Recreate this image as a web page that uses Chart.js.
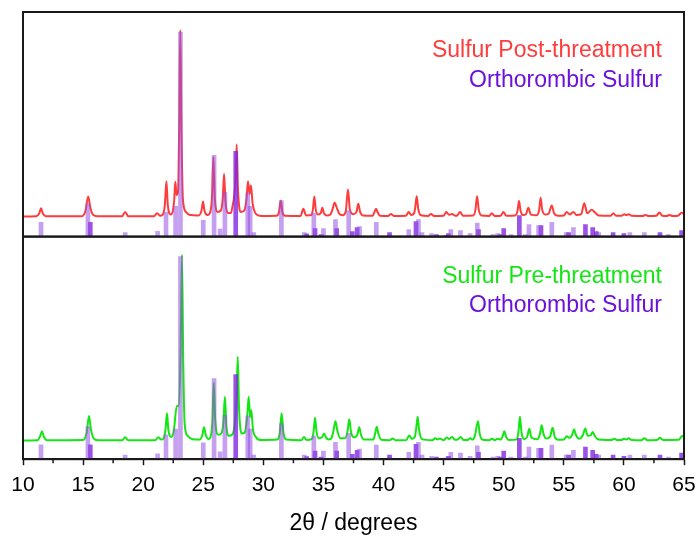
<!DOCTYPE html>
<html>
<head>
<meta charset="utf-8">
<script src="https://cdn.jsdelivr.net/npm/chart.js@4.4.1/dist/chart.umd.min.js"></script>
<style>
  html, body { margin: 0; padding: 0; background: #fff; }
</style>
</head>
<body>
<canvas id="xrdChart" width="699" height="537"></canvas>
<script>
// Eje X (2θ) y etiquetas
const xTickValues = [10, 15, 20, 25, 30, 35, 40, 45, 50, 55, 60, 65];

// Referencia: azufre ortorrómbico (barras claras)
const refAngles = [11.5, 15.4, 18.5, 21.2, 21.9, 22.7, 23.1, 25.0, 25.9, 26.4, 26.8, 28.7, 28.9, 29.2,
    31.5, 33.4, 34.2, 35.0, 36.0, 37.1, 38.0, 39.4, 40.5, 42.1, 42.9, 43.2, 44.0, 45.6, 46.4, 47.2,
    47.8, 49.1, 49.5, 50.6, 51.8, 52.1, 52.9, 54.0, 55.2, 55.8, 57.9, 60.5, 61.7, 63.7];
const refIntensity = [6.4, 14.6, 1.8, 2.4, 10.9, 13.5, 91, 7.3, 36.2, 3.3, 19.8, 19.5, 13.5, 1.8,
    16, 1.8, 10.4, 3.6, 7.6, 11.6, 4.5, 6.3, 0.9, 3.1, 7.6, 1.8, 1.3, 3.1, 2.7, 1.3,
    6, 0.9, 1.3, 0.9, 0.9, 5.4, 4.9, 6.3, 1.8, 4, 1.8, 1.8, 1.8, 0.9];

// Referencia: barras oscuras
const refDarkAngles = [15.6, 27.7, 33.6, 34.3, 34.8, 36.1, 37.4, 37.8, 40.5, 42.7, 44.4, 45.2, 45.4,
    47.9, 49.7, 50.0, 51.3, 53.1, 55.4, 56.8, 57.4, 57.7, 59.1, 60.0, 63.0, 64.8];
const refDarkIntensity = [6.4, 38, 1.2, 3.6, 0.9, 3.6, 2.2, 4, 1.8, 6.7, 0.9, 0.5, 1.3,
    3.1, 0.9, 3.6, 9.4, 4.9, 1.8, 5.4, 4, 2.2, 1.8, 1.3, 1.8, 2.7];

// Difractograma post-tratamiento [2θ, intensidad]
const postPattern = [
    [10, 9], [11.1, 9.1], [11.35, 10.3], [11.5, 12.6], [11.65, 10.3], [11.9, 9.1],
    [14.9, 9.1], [15.2, 11.5], [15.43, 17.9], [15.6, 13], [15.85, 9.6], [16.2, 9.1],
    [18.25, 9.1], [18.5, 11.0], [18.75, 9.1],
    [20.9, 9.1], [21.15, 10.4], [21.4, 9.3],
    [21.6, 9.6], [21.8, 14], [21.93, 24.7], [22.05, 14], [22.3, 9.8],
    [22.45, 11], [22.58, 16], [22.67, 24.4], [22.78, 18.5], [22.9, 20], [23.0, 50], [23.09, 92],
    [23.18, 50], [23.3, 17], [23.55, 11], [23.9, 9.6],
    [24.6, 9.4], [24.85, 11.5], [24.98, 15.6], [25.1, 11.5], [25.35, 9.6],
    [25.55, 10.5], [25.72, 17], [25.84, 35.4], [25.96, 17], [26.2, 11], [26.45, 11.5], [26.62, 17],
    [26.73, 28], [26.84, 16], [27.05, 10.5], [27.3, 10.5], [27.45, 14], [27.55, 17], [27.68, 25],
    [27.78, 41], [27.88, 22], [28.1, 11], [28.4, 11.5], [28.6, 17], [28.72, 24.6], [28.85, 19],
    [28.97, 22.8], [29.1, 15], [29.4, 10], [29.8, 9.2],
    [31.1, 9.3], [31.3, 11], [31.44, 16.1], [31.58, 11], [31.8, 9.3],
    [33.1, 9.2], [33.33, 12.4], [33.55, 9.4],
    [34.0, 9.6], [34.12, 12], [34.24, 17.9], [34.36, 12], [34.55, 9.8], [34.78, 10.5], [34.9, 12.8],
    [35.05, 10.3], [35.35, 9.4],
    [35.6, 10], [35.8, 13], [35.93, 15.2], [36.1, 13], [36.3, 10.3], [36.6, 9.5], [36.85, 11],
    [37.04, 21], [37.2, 12], [37.5, 10], [37.75, 11], [37.9, 14.6], [38.05, 11], [38.3, 9.4],
    [39.1, 9.3], [39.25, 11], [39.37, 12.4], [39.5, 11], [39.7, 9.3],
    [40.4, 9.2], [40.62, 10.1], [40.85, 9.2],
    [41.85, 9.3], [42.09, 10.9], [42.3, 9.6], [42.55, 10.5], [42.66, 14], [42.76, 18], [42.88, 12.5], [43.1, 9.5],
    [43.7, 9.2], [43.95, 10.1], [44.2, 9.2],
    [45.0, 9.3], [45.22, 10.9], [45.45, 9.7], [45.7, 10.1], [45.95, 9.3], [46.15, 9.5], [46.36, 11], [46.6, 9.3],
    [47.45, 9.4], [47.65, 12], [47.78, 18], [47.92, 12], [48.15, 9.4],
    [48.8, 9.2], [49.0, 10.4], [49.25, 9.2], [49.75, 9.3], [49.97, 11], [50.2, 9.3],
    [50.95, 9.4], [51.15, 11.5], [51.27, 15.8], [51.4, 11.5], [51.6, 9.6], [51.85, 10], [52.05, 12.8], [52.25, 9.8],
    [52.75, 9.5], [52.95, 12], [53.07, 17.3], [53.2, 12], [53.45, 9.8], [53.75, 10.3], [53.99, 13.8], [54.2, 10.3], [54.5, 9.3],
    [55.0, 9.4], [55.24, 11], [55.5, 9.8], [55.79, 11], [56.05, 9.6], [56.45, 10], [56.7, 14.9], [56.95, 10.4],
    [57.32, 11.9], [57.6, 10.7], [57.9, 9.4],
    [58.9, 9.3], [59.12, 10.4], [59.35, 9.3], [59.8, 9.3], [60.04, 10], [60.2, 9.6], [60.4, 10], [60.65, 9.3],
    [61.55, 9.2], [61.8, 9.6], [62.05, 9.2], [62.7, 9.3], [62.95, 10.7], [63.2, 9.3], [63.55, 9.2], [63.8, 9.6],
    [64.05, 9.2], [64.5, 9.3], [64.8, 10.6], [65, 10.2]
];

// Difractograma pre-tratamiento [2θ, intensidad]
const prePattern = [
    [10, 8.4], [11.2, 8.5], [11.42, 10.3], [11.58, 12.6], [11.72, 10.3], [12.0, 8.5],
    [15.0, 8.6], [15.3, 12], [15.49, 19.4], [15.65, 13.5], [15.9, 9.2], [16.3, 8.5],
    [18.25, 8.5], [18.5, 9.9], [18.75, 8.5],
    [21.0, 8.5], [21.26, 9.9], [21.5, 8.8],
    [21.7, 9.3], [21.86, 13.5], [21.98, 20.6], [22.1, 13], [22.35, 10],
    [22.55, 13], [22.8, 23.9], [22.95, 24], [23.1, 45], [23.23, 91.9], [23.33, 45], [23.45, 16],
    [23.7, 10.5], [24.1, 9],
    [24.7, 8.8], [24.93, 11], [25.06, 14.4], [25.2, 11], [25.45, 9],
    [25.6, 10], [25.76, 17], [25.87, 34.4], [25.99, 18], [26.25, 11], [26.5, 11.5], [26.68, 17],
    [26.8, 28], [26.92, 15], [27.15, 10.5], [27.4, 11], [27.6, 15], [27.76, 27], [27.87, 46],
    [27.97, 24], [28.2, 11.5], [28.45, 12], [28.65, 19], [28.78, 28], [28.9, 19], [29.0, 22],
    [29.12, 14], [29.4, 9.8], [29.8, 8.6],
    [31.15, 8.8], [31.37, 12], [31.52, 20.6], [31.67, 12], [31.9, 8.8],
    [33.15, 8.5], [33.38, 10], [33.6, 8.6],
    [34.05, 9.2], [34.18, 12.5], [34.3, 18.6], [34.42, 12.5], [34.62, 9.4], [34.9, 10], [35.05, 11.6],
    [35.2, 9.8], [35.45, 8.8],
    [35.68, 9.6], [35.86, 13.5], [36.0, 17.1], [36.15, 13], [36.4, 9.4], [36.8, 9.4], [37.0, 12.5],
    [37.15, 17.9], [37.3, 12], [37.55, 9.8], [37.82, 11], [37.98, 14.4], [38.12, 11], [38.4, 8.8],
    [39.15, 8.8], [39.3, 11.5], [39.43, 14.6], [39.57, 11.5], [39.8, 8.7],
    [40.5, 8.5], [40.76, 9.3], [41.0, 8.5],
    [41.9, 8.6], [42.14, 10.7], [42.35, 9.2], [42.6, 10], [42.72, 14], [42.84, 19.1], [42.96, 13], [43.2, 9],
    [44.05, 8.5], [44.3, 9.4], [44.5, 8.9], [44.7, 9.3], [44.95, 8.6],
    [45.05, 8.7], [45.26, 9.8], [45.48, 9.1], [45.7, 10], [45.95, 8.7], [46.2, 8.9], [46.42, 10], [46.65, 8.6],
    [47.0, 8.6], [47.2, 9.4], [47.4, 8.8], [47.6, 10.5], [47.86, 17.1], [48.0, 11.5], [48.25, 8.7],
    [48.8, 8.5], [49.0, 9.2], [49.25, 8.6], [49.5, 9.2], [49.75, 8.8], [49.92, 10.5], [50.05, 12.6], [50.2, 10], [50.45, 8.6],
    [51.05, 8.8], [51.22, 12], [51.35, 19.1], [51.48, 12], [51.7, 9], [51.95, 10], [52.13, 13.7], [52.3, 9.8],
    [52.8, 9], [53.02, 11.5], [53.16, 15.2], [53.3, 11.5], [53.55, 9.3], [53.85, 10], [54.07, 14.1], [54.25, 10], [54.55, 8.7],
    [55.0, 8.8], [55.24, 10.3], [55.45, 9.6], [55.7, 11], [55.85, 13.4], [56.0, 11], [56.3, 9.2], [56.6, 11],
    [56.79, 13.8], [56.98, 10.5], [57.25, 10.8], [57.4, 12.2], [57.6, 10.2], [57.9, 8.8],
    [58.95, 8.6], [59.2, 9.2], [59.45, 8.6], [59.8, 8.6], [60.0, 9.2], [60.2, 8.9], [60.4, 9.4], [60.65, 8.6],
    [61.45, 8.5], [61.7, 9.4], [61.95, 8.5], [62.75, 8.6], [63.0, 9.6], [63.25, 8.6],
    [64.55, 8.7], [64.86, 10.4], [65, 9.8]
];

// Leyendas por panel
const topLegend = ['Sulfur Post-threatment', 'Orthorombic Sulfur'];
const bottomLegend = ['Sulfur Pre-threatment', 'Orthorombic Sulfur'];

// Colores
const colors = {
    post: '#ff3c3c',
    pre: '#14e614',
    refText: '#6c10dc',
    refLight: 'rgba(150, 80, 228, 0.55)',
    refDark: 'rgba(130, 40, 225, 0.8)',
    axis: '#1a1a1a'
};

const fontFamily = "'Liberation Sans', Arial, sans-serif";
Chart.defaults.font.family = fontFamily;

function toPoints(xs, ys) {
    return xs.map((x, i) => ({ x: x, y: ys[i] }));
}

function patternPoints(pattern) {
    return pattern.map(p => ({ x: p[0], y: p[1] }));
}

function barDataset(xs, ys, color, axisId) {
    return {
        type: 'bar',
        data: toPoints(xs, ys),
        backgroundColor: color,
        borderWidth: 0,
        barThickness: 4,
        grouped: false,
        yAxisID: axisId,
        order: 0
    };
}

function lineDataset(pattern, color, axisId) {
    return {
        type: 'line',
        data: patternPoints(pattern),
        borderColor: color,
        borderWidth: 2,
        pointRadius: 0,
        cubicInterpolationMode: 'monotone',
        fill: false,
        yAxisID: axisId,
        order: 1
    };
}

// Marcos de cada panel, ticks menores y leyendas
const panelPlugin = {
    id: 'panelPlugin',
    afterDraw(chart) {
        const ctx = chart.ctx;
        const area = chart.chartArea;
        const xScale = chart.scales.x;
        ctx.save();
        ctx.strokeStyle = colors.axis;
        ctx.lineWidth = 2;
        ['yTop', 'yBot'].forEach(id => {
            const s = chart.scales[id];
            ctx.strokeRect(area.left, s.top, area.right - area.left, s.bottom - s.top);
        });

        // ticks menores
        ctx.lineWidth = 1.5;
        const ticks = xScale.ticks;
        for (let i = 0; i < ticks.length - 1; i++) {
            const px = xScale.getPixelForValue((ticks[i].value + ticks[i + 1].value) / 2);
            ctx.beginPath();
            ctx.moveTo(px, area.bottom);
            ctx.lineTo(px, area.bottom + 4);
            ctx.stroke();
        }

        // leyendas
        ctx.font = '23px ' + fontFamily;
        ctx.textAlign = 'right';
        ctx.textBaseline = 'middle';
        const xRight = area.right - 22;
        const topScale = chart.scales.yTop;
        const botScale = chart.scales.yBot;
        ctx.fillStyle = colors.post;
        ctx.fillText(topLegend[0], xRight, topScale.top + 39);
        ctx.fillStyle = colors.refText;
        ctx.fillText(topLegend[1], xRight, topScale.top + 68.5);
        ctx.fillStyle = colors.pre;
        ctx.fillText(bottomLegend[0], xRight, botScale.top + 40.5);
        ctx.fillStyle = colors.refText;
        ctx.fillText(bottomLegend[1], xRight, botScale.top + 69.5);
        ctx.restore();
    }
};

const ctx = document.getElementById('xrdChart').getContext('2d');

const xrdChart = new Chart(ctx, {
    type: 'line',
    data: {
        datasets: [
            barDataset(refAngles, refIntensity, colors.refLight, 'yTop'),
            barDataset(refDarkAngles, refDarkIntensity, colors.refDark, 'yTop'),
            barDataset(refAngles, refIntensity, colors.refLight, 'yBot'),
            barDataset(refDarkAngles, refDarkIntensity, colors.refDark, 'yBot'),
            lineDataset(postPattern, colors.post, 'yTop'),
            lineDataset(prePattern, colors.pre, 'yBot')
        ]
    },
    options: {
        responsive: false,
        animation: false,
        layout: {
            padding: { left: 23, right: 15, top: 12, bottom: 0 }
        },
        plugins: {
            legend: { display: false },
            tooltip: { enabled: false }
        },
        scales: {
            x: {
                type: 'linear',
                position: 'bottom',
                min: 10,
                max: 65,
                offset: false,
                afterBuildTicks: function(scale) {
                    scale.ticks = xTickValues.map(v => ({ value: v }));
                },
                afterFit: function(scale) {
                    // el margen lo fija layout.padding
                    scale.paddingLeft = 0;
                    scale.paddingRight = 0;
                },
                grid: {
                    display: true,
                    offset: false,
                    drawOnChartArea: false,
                    tickLength: 6,
                    tickWidth: 1.5,
                    color: colors.axis
                },
                border: { display: true, color: colors.axis, width: 2 },
                ticks: {
                    font: { size: 21 },
                    color: '#000',
                    padding: 7,
                    maxRotation: 0,
                    autoSkip: false
                },
                title: {
                    display: true,
                    text: '2θ / degrees',
                    font: { size: 23 },
                    color: '#000',
                    padding: { top: 5, bottom: 0 }
                }
            },
            yBot: {
                type: 'linear',
                position: 'left',
                stack: 'panels',
                stackWeight: 222,
                min: 0,
                max: 100,
                display: false
            },
            yTop: {
                type: 'linear',
                position: 'left',
                stack: 'panels',
                stackWeight: 224,
                min: 0,
                max: 100,
                display: false
            }
        }
    },
    plugins: [panelPlugin]
});
</script>
</body>
</html>
